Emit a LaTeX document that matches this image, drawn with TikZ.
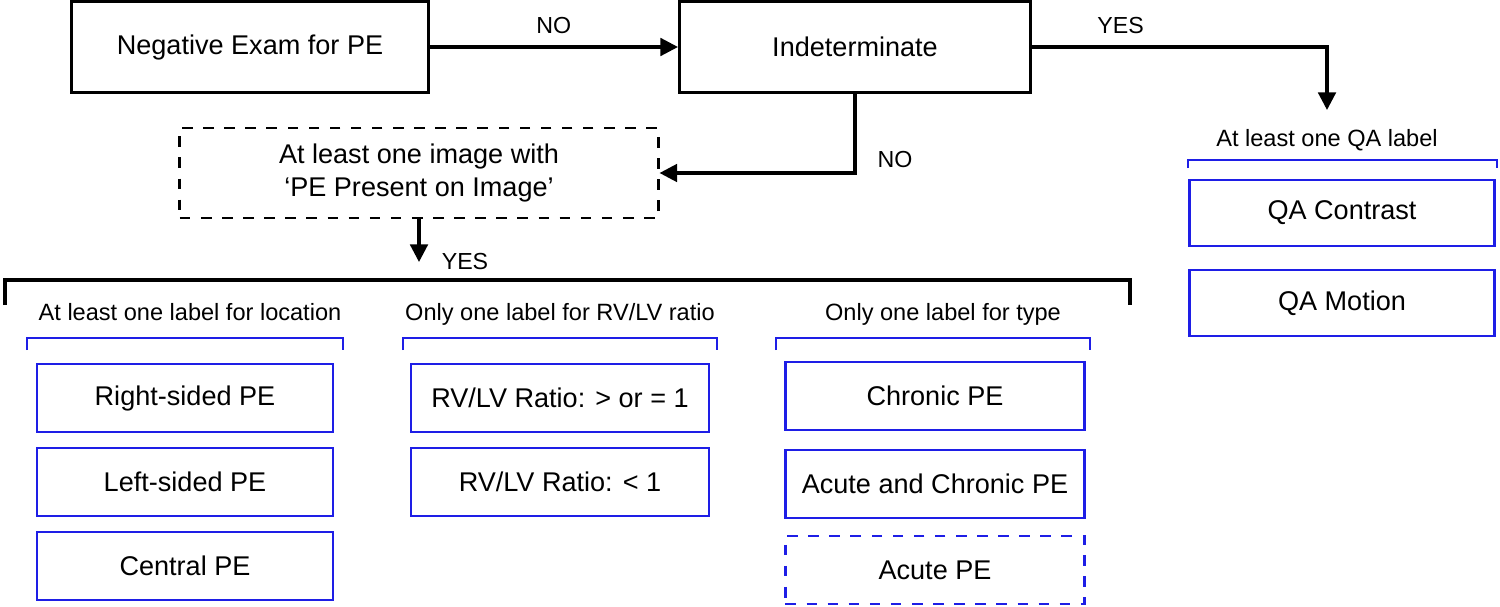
\documentclass[tikz,border=0pt]{standalone}
\usepackage{fontspec}
\setmainfont{Liberation Sans}
\usetikzlibrary{arrows.meta}
\definecolor{qblue}{RGB}{30,30,230}
\tikzset{
  flow/.style={draw=black, line width=0.8pt, align=center, font=\fontsize{7.7}{9.6}\selectfont},
  lbl/.style={draw=qblue, line width=0.7pt, minimum height=0.68cm, font=\fontsize{7.7}{9.6}\selectfont},
  capt/.style={font=\fontsize{6.7}{8}\selectfont},
  ans/.style={font=\fontsize{6.6}{8}\selectfont},
  arr/.style={-{Triangle[length=5pt,width=5pt]}, line width=0.9pt},
  brk/.style={line width=0.9pt},
  bbrk/.style={draw=qblue, line width=0.7pt}
}
\begin{document}
\begin{tikzpicture}[x=0.01cm, y=-0.01cm]
\useasboundingbox (0,0) rectangle (1500,606);
% top row
\node [flow, minimum width=3.56cm, minimum height=0.91cm] (neg) at (250,47) {Negative Exam for PE};
\node [flow, minimum width=3.51cm, minimum height=0.91cm] (ind) at (855,47) {Indeterminate};
\node [flow, dashed, minimum width=4.78cm, minimum height=0.9cm] (img) at (419,173) {At least one image with\\‘PE Present on Image’};
\draw [arr] (neg) -- node [above, ans] {NO} (ind);
\coordinate (qa) at (1327,110);
\draw [arr] (ind.east) -- node [above, pos=0.3, ans] {YES} (qa |- ind.east) -- (qa);
\draw [arr] (ind.south) |- (img.east);
\node [ans] (no2) at (895,160) {NO};
\coordinate (yes) at (419,262);
\draw [arr] (img) -- (yes);
\node [ans] (yeslbl) at (465,262) {YES};
% QA labels
\node [capt] (qacap) at (1327,140) {At least one QA label};
\draw [bbrk] (1188,168) -- (1188,160) -- (1497,160) -- (1497,168);
\node [lbl, minimum width=3.05cm, minimum height=0.66cm] (qac) at (1342,213) {QA Contrast};
\node [lbl, minimum width=3.05cm, minimum height=0.66cm] (qam) at (1342,303) {QA Motion};
% main bracket
\draw [brk] (5,305) -- (5,280) -- (1130,280) -- (1130,305);
\node [capt] (c1) at (190,312) {At least one label for location};
\node [capt] (c2) at (560,314) {Only one label for RV/LV ratio};
\node [capt] (c3) at (943,314) {Only one label for type};
\foreach \a/\b in {27/343, 403/717, 776/1090}
  \draw [bbrk] (\a,350) -- (\a,338) -- (\b,338) -- (\b,350);
% location
\node [lbl, minimum width=2.96cm] (rs) at (185,398) {Right-sided PE};
\node [lbl, minimum width=2.96cm] (ls) at (185,482) {Left-sided PE};
\node [lbl, minimum width=2.96cm] (cp) at (185,566) {Central PE};
% ratio
\node [lbl, minimum width=2.98cm] (r1) at (560,398) {RV/LV Ratio: > or = 1};
\node [lbl, minimum width=2.98cm] (r2) at (560,482) {RV/LV Ratio: < 1};
% type
\node [lbl, minimum width=2.99cm] (ch) at (935,396) {Chronic PE};
\node [lbl, minimum width=2.99cm] (ac) at (935,484) {Acute and Chronic PE};
\node [lbl, dashed, minimum width=2.99cm] (ap) at (935,570) {Acute PE};
\end{tikzpicture}
\end{document}
